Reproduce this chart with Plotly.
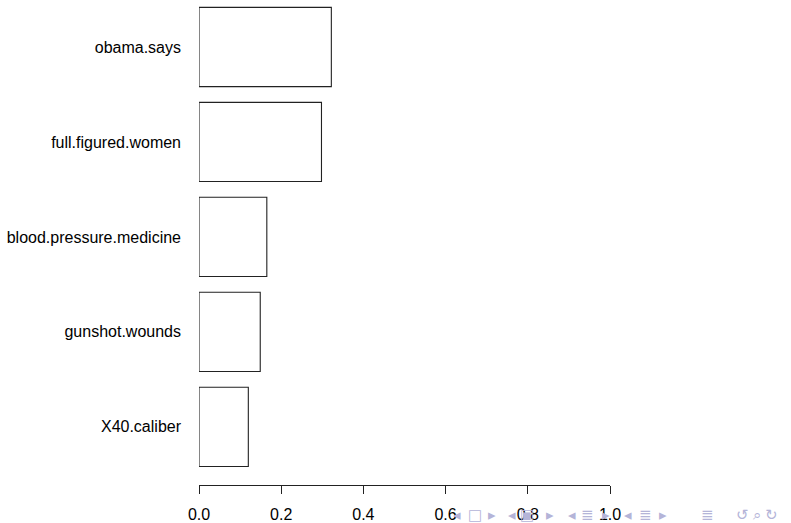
import plotly.graph_objects as go

categories = ["X40.caliber", "gunshot.wounds", "blood.pressure.medicine",
              "full.figured.women", "obama.says"]
values = [0.120, 0.149, 0.165, 0.298, 0.322]
x_ticks = [0.0, 0.2, 0.4, 0.6, 0.8, 1.0]
x_tick_labels = ["0.0", "0.2", "0.4", "0.6", "0.8", "1.0"]

FONT = "Liberation Sans, Arial, Helvetica, sans-serif"

fig = go.Figure()
fig.add_trace(go.Bar(
    x=values, y=categories, orientation="h",
    marker=dict(color="white", line=dict(color="#222222", width=1.1)),
    hoverinfo="skip",
))

# beamer navigation symbols (bottom right)
nav = [("◂", 457), ("□", 475), ("▸", 492),
       ("◂", 512), ("▣", 527), ("▸", 550),
       ("◂", 572), ("≣", 588), ("▸", 606),
       ("◂", 628), ("≣", 645), ("▸", 663),
       ("≣", 707),
       ("↺", 742), ("⌕", 757), ("↻", 771)]
for sym, px in nav:
    fig.add_annotation(
        xref="paper", yref="paper",
        x=(px - 199.3) / (791 - 199.3 - 181), y=-(515 - 485) / 485,
        text=sym, showarrow=False,
        font=dict(family="DejaVu Sans", size=15, color="#b4b4d8"),
        xanchor="center", yanchor="middle",
    )

fig.update_layout(
    width=791, height=523,
    margin=dict(l=199.3, r=181, t=0, b=38),
    plot_bgcolor="white", paper_bgcolor="white",
    bargap=0.166,
    showlegend=False,
    font=dict(family=FONT, size=16, color="black"),
    xaxis=dict(
        range=[0, 1.0], tickvals=x_ticks, ticktext=x_tick_labels,
        showline=True, linecolor="#222222", linewidth=1,
        ticks="outside", ticklen=8, tickcolor="#222222", tickwidth=1,
        showgrid=False, zeroline=False,
        tickfont=dict(family=FONT, size=16, color="black"),
        ticklabelstandoff=7,
    ),
    yaxis=dict(
        type="category", categoryorder="array", categoryarray=categories,
        range=[-0.6126, 4.4947],
        showline=False, ticks="", showgrid=False, zeroline=False,
        tickfont=dict(family=FONT, size=16, color="black"),
        ticklabelstandoff=17,
    ),
)

fig.write_html("out.html")
